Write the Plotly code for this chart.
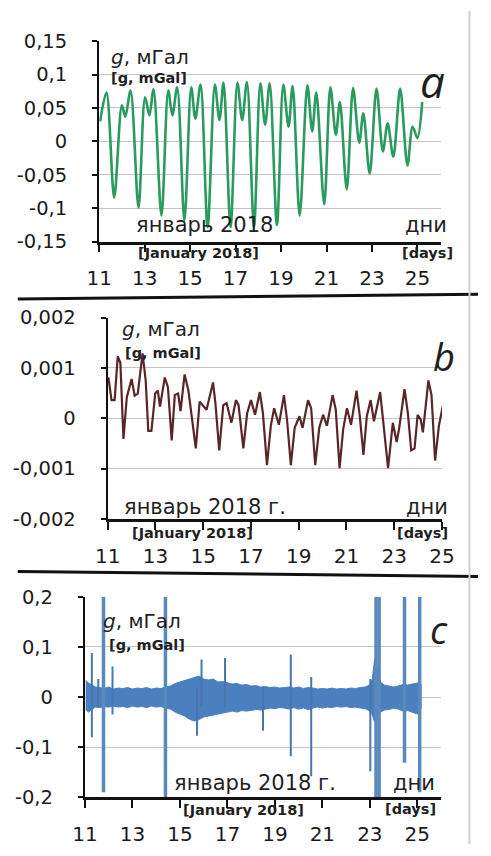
import plotly.graph_objects as go

W, H = 491, 856

# ---------------- data ----------------
x_ticks = [11, 13, 15, 17, 19, 21, 23, 25]
x_ticktext = ["11", "13", "15", "17", "19", "21", "23", "25"]

# panel a (green, smoothed tidal signal) - extrema
a_day = [11.04, 11.32, 11.66, 12.0, 12.15, 12.38, 12.73, 13.02, 13.21, 13.39,
         13.74, 14.04, 14.22, 14.43, 14.75, 15.05, 15.23, 15.46, 15.77, 16.09,
         16.29, 16.47, 16.78, 17.08, 17.29, 17.50, 17.81, 18.09, 18.30, 18.50,
         18.82, 19.10, 19.33, 19.51, 19.82, 20.16, 20.37, 20.55, 20.90, 21.17,
         21.41, 21.59, 21.89, 22.17, 22.44, 22.62, 22.90, 23.20, 23.48, 23.69,
         23.94, 24.24, 24.56, 24.79, 25.0, 25.21]
a_val = [0.030, 0.073, -0.084, 0.054, 0.037, 0.076, -0.099, 0.066, 0.039, 0.078,
         -0.111, 0.076, 0.039, 0.081, -0.118, 0.081, 0.034, 0.085, -0.128, 0.085,
         0.032, 0.088, -0.128, 0.088, 0.032, 0.089, -0.128, 0.087, 0.025, 0.087,
         -0.125, 0.085, 0.022, 0.083, -0.111, 0.084, 0.015, 0.073, -0.094, 0.081,
         0.010, 0.059, -0.072, 0.080, -0.002, 0.042, -0.048, 0.079, -0.015, 0.027,
         -0.023, 0.079, -0.036, 0.022, 0.005, 0.059]
a_ytick = [0.15, 0.1, 0.05, 0, -0.05, -0.1, -0.15]
a_yticktext = ["0,15", "0,1", "0,05", "0", "-0,05", "-0,1", "-0,15"]

# panel b (brown, jagged)
b_day = [11.03, 11.16, 11.29, 11.42, 11.53, 11.66, 11.80, 12.00, 12.13, 12.26,
         12.46, 12.59, 12.70, 12.83, 12.99, 13.10, 13.19, 13.39, 13.52, 13.68,
         13.81, 13.95, 14.05, 14.22, 14.38, 14.69, 14.85, 14.98, 15.14, 15.41,
         15.51, 15.67, 15.84, 15.98, 16.18, 16.37, 16.48, 16.68, 16.84, 17.00,
         17.17, 17.37, 17.50, 17.67, 17.83, 17.97, 18.17, 18.38, 18.51, 18.67,
         18.83, 19.03, 19.16, 19.39, 19.52, 19.69, 19.86, 20.02, 20.18, 20.42,
         20.55, 20.71, 20.86, 21.02, 21.19, 21.42, 21.55, 21.71, 21.85, 22.01,
         22.15, 22.41, 22.54, 22.74, 22.94, 23.10, 23.21, 23.43, 23.57, 23.71,
         23.85, 23.98, 24.11, 24.20, 24.43, 24.56, 24.71, 24.87, 25.04]
b_val = [0.00081, 0.00036, 0.00036, 0.00123, 0.00110, -0.00041, 0.00042, 0.00078,
         0.00045, 0.00049, 0.00129, 0.00075, -0.00025, -0.00025, 0.00049, 0.00055,
         0.00023, 0.00081, 0.00062, -0.00044, 0.00046, 0.00049, 0.00014, 0.00087,
         0.00055, -0.00060, 0.00033, 0.00026, 0.00017, 0.00071, 0.00030, -0.00064,
         0.00026, 0.00030, -0.00009, 0.00036, 0.00026, -0.00060, 0.00010, 0.00036,
         0.00007, 0.00052, 0.00010, -0.00093, -0.00015, 0.00020, -0.00013, 0.00046,
         -0.00003, -0.00093, -0.00019, 0.00004, -0.00019, 0.00036, 0.00020, -0.00093,
         -0.00019, 0.00007, -0.00015, 0.00046, 0.00017, -0.00099, -0.00022, 0.00020,
         -0.00013, 0.00055, 0.00007, -0.00073, 0.00004, 0.00036, -0.00006, 0.00052,
         -0.00003, -0.00099, -0.00009, -0.00047, -0.00019, 0.00058, 0.00010, -0.00064,
         -0.00060, 0.00007, -0.00003, -0.00028, 0.00075, 0.00046, -0.00084, -0.00015,
         0.00026]
b_ytick = [0.002, 0.001, 0, -0.001, -0.002]
b_yticktext = ["0,002", "0,001", "0", "-0,001", "-0,002"]

# panel c (blue noise band: envelope + spikes)
c_day = [11.03, 11.15, 11.3, 11.45, 11.6, 11.8, 12.0, 12.2, 12.4, 12.6,
         12.8, 13.0, 13.2, 13.4, 13.6, 13.8, 14.0, 14.2, 14.4, 14.6,
         14.8, 15.0, 15.2, 15.4, 15.6, 15.8, 16.0, 16.2, 16.4, 16.6,
         16.8, 17.0, 17.2, 17.4, 17.6, 17.8, 18.0, 18.2, 18.4, 18.6,
         18.8, 19.0, 19.2, 19.4, 19.6, 19.8, 20.0, 20.2, 20.4, 20.6,
         20.8, 21.0, 21.2, 21.4, 21.6, 21.8, 22.0, 22.2, 22.4, 22.6,
         22.8, 23.0, 23.1, 23.2, 23.3, 23.45, 23.6, 23.8, 24.0, 24.2,
         24.4, 24.6, 24.8, 25.0, 25.18]
c_upper = [0.033, 0.028, 0.024, 0.020, 0.019, 0.017, 0.020, 0.016, 0.018, 0.017,
           0.019, 0.016, 0.018, 0.017, 0.019, 0.016, 0.018, 0.017, 0.020, 0.022,
           0.027, 0.030, 0.033, 0.036, 0.040, 0.042, 0.036, 0.034, 0.036, 0.030,
           0.031, 0.028, 0.026, 0.027, 0.024, 0.025, 0.022, 0.023, 0.020, 0.021,
           0.019, 0.020, 0.018, 0.019, 0.020, 0.018, 0.020, 0.017, 0.019, 0.018,
           0.016, 0.017, 0.016, 0.018, 0.016, 0.017, 0.016, 0.018, 0.017, 0.019,
           0.020, 0.024, 0.035, 0.075, 0.060, 0.030, 0.024, 0.022, 0.020, 0.022,
           0.025, 0.024, 0.026, 0.028, 0.024]
c_lower = [-0.025, -0.030, -0.024, -0.020, -0.021, -0.019, -0.020, -0.018, -0.020, -0.019,
           -0.021, -0.018, -0.020, -0.019, -0.021, -0.018, -0.020, -0.019, -0.022, -0.024,
           -0.030, -0.034, -0.038, -0.044, -0.048, -0.045, -0.040, -0.038, -0.036, -0.033,
           -0.032, -0.030, -0.028, -0.030, -0.027, -0.028, -0.027, -0.025, -0.026, -0.024,
           -0.022, -0.023, -0.021, -0.022, -0.024, -0.021, -0.024, -0.022, -0.025, -0.022,
           -0.020, -0.022, -0.020, -0.021, -0.019, -0.020, -0.019, -0.021, -0.020, -0.022,
           -0.023, -0.028, -0.035, -0.050, -0.045, -0.030, -0.026, -0.025, -0.022, -0.024,
           -0.028, -0.027, -0.030, -0.034, -0.020]
spike_day = [11.29, 11.56, 12.16, 15.72, 15.91, 16.90, 18.50, 19.67, 20.53, 23.02]
spike_low = [-0.080, -0.020, -0.035, -0.077, -0.020, -0.020, -0.067, -0.118, -0.158, -0.148]
spike_high = [0.088, 0.036, 0.061, 0.020, 0.075, 0.078, 0.020, 0.085, 0.040, 0.036]
big_spike_day = [11.78, 14.39, 23.26, 23.39, 24.46, 25.10]
big_spike_low = [-0.190, -0.200, -0.200, -0.200, -0.131, -0.190]
big_spike_high = [0.200, 0.200, 0.200, 0.200, 0.200, 0.200]
c_ytick = [0.2, 0.1, 0, -0.1, -0.2]
c_yticktext = ["0,2", "0,1", "0", "-0,1", "-0,2"]

assert len(a_day) == len(a_val)
assert len(b_day) == len(b_val)
assert len(c_day) == len(c_upper) == len(c_lower)


def px(x):
    return x / W


def py(y):
    return 1 - y / H


def segs(days, lows, highs):
    xs, ys = [], []
    for d, lo, hi in zip(days, lows, highs):
        xs += [d, d, None]
        ys += [lo, hi, None]
    return xs, ys


fig = go.Figure()

GREEN = "#2a9a5e"
BROWN = "#5a2526"
BLUE = "#4a7fc0"

fig.add_trace(go.Scatter(x=a_day, y=a_val, mode="lines",
                         line=dict(color=GREEN, width=2.6, shape="spline", smoothing=0.9),
                         xaxis="x", yaxis="y", hoverinfo="skip"))
fig.add_trace(go.Scatter(x=b_day, y=b_val, mode="lines",
                         line=dict(color=BROWN, width=2.2),
                         xaxis="x2", yaxis="y2", hoverinfo="skip"))
fig.add_trace(go.Scatter(x=c_day, y=c_lower, mode="lines",
                         line=dict(color=BLUE, width=1),
                         xaxis="x3", yaxis="y3", hoverinfo="skip"))
fig.add_trace(go.Scatter(x=c_day, y=c_upper, mode="lines", fill="tonexty",
                         fillcolor=BLUE, line=dict(color=BLUE, width=1),
                         xaxis="x3", yaxis="y3", hoverinfo="skip"))
sx, sy = segs(spike_day, spike_low, spike_high)
fig.add_trace(go.Scatter(x=sx, y=sy, mode="lines", line=dict(color="#4876ae", width=2),
                         xaxis="x3", yaxis="y3", hoverinfo="skip"))
bx, by = segs(big_spike_day, big_spike_low, big_spike_high)
fig.add_trace(go.Scatter(x=bx, y=by, mode="lines", line=dict(color="#5a89bd", width=3.5),
                         xaxis="x3", yaxis="y3", hoverinfo="skip"))

XFONT = dict(family="DejaVu Sans, sans-serif", size=20, color="#1a1a1a")
YFONT = dict(family="DejaVu Sans, sans-serif", size=19.5, color="#1a1a1a")


def xax(domain, rng, anchor):
    return dict(domain=domain, range=rng, anchor=anchor, tickmode="array",
                tickvals=x_ticks, ticktext=x_ticktext, ticks="outside", ticklen=8,
                tickwidth=2, tickcolor="#111", showline=True, linecolor="#111",
                linewidth=2.5, showgrid=False, zeroline=False, tickfont=XFONT,
                ticklabelstandoff=9, fixedrange=True)


def yax(domain, rng, anchor, vals, text):
    return dict(domain=domain, range=rng, anchor=anchor, tickmode="array",
                tickvals=vals, ticktext=text, ticks="outside", ticklen=5,
                tickwidth=2, tickcolor="#111", showline=True, linecolor="#111",
                linewidth=2.2, showgrid=True, gridcolor="#c4c4c4", gridwidth=1,
                zeroline=False, tickfont=YFONT, ticklabelstandoff=21,
                fixedrange=True)


fig.update_layout(
    width=W, height=H, margin=dict(l=0, r=0, t=0, b=0),
    paper_bgcolor="white", plot_bgcolor="rgba(0,0,0,0)", showlegend=False,
    xaxis=xax([px(91), px(452)], [11, 26.04], "y"),
    yaxis=yax([py(237), py(31)], [-0.15, 0.15], "x", a_ytick, a_yticktext),
    xaxis2=xax([px(100), px(453)], [11, 25.0], "y2"),
    yaxis2=yax([py(522), py(315)], [-0.002, 0.002], "x2", b_ytick, b_yticktext),
    xaxis3=xax([px(76), px(452)], [11, 26.0], "y3"),
    yaxis3=yax([py(808), py(602)], [-0.2, 0.2], "x3", c_ytick, c_yticktext),
)

FN = "DejaVu Sans, sans-serif"
FB = "DejaVu Sans, sans-serif"
FL = "Open Sans, Lato, sans-serif"
ann = []


def txt(t, x, y, size, bold=False, family=FN, color="#1f1f1f"):
    ann.append(dict(text=("<b>%s</b>" % t) if bold else t, x=px(x), y=py(y),
                    xref="paper", yref="paper", xanchor="center", yanchor="middle",
                    showarrow=False, font=dict(family=family, size=size, color=color)))


# panel a
txt("<i>g</i>, мГал", 145, 47, 20)
txt("[g, mGal]", 144, 69, 14.5, bold=True, family=FB)
txt("<i>a</i>", 443, 72, 44, family=FL)
txt("январь 2018", 202, 220, 21)
txt("дни", 436, 220, 21)
txt("[January 2018]", 196, 249, 14.5, bold=True, family=FB)
txt("[days]", 438, 249, 14.5, bold=True, family=FB)
# panel b
txt("<i>g</i>, мГал", 156, 327, 20)
txt("[g, mGal]", 158, 351, 14.5, bold=True, family=FB)
txt("<i>b</i>", 455, 355, 38, family=FL)
txt("январь 2018 г.", 203, 510, 21)
txt("дни", 437, 510, 21)
txt("[January 2018]", 190, 536, 14.5, bold=True, family=FB)
txt("[days]", 432, 536, 14.5, bold=True, family=FB)
# panel c
txt("<i>g</i>, мГал", 136, 627, 20)
txt("[g, mGal]", 141, 652, 14.5, bold=True, family=FB)
txt("<i>c</i>", 450, 635, 38, family=FL)
txt("январь 2018 г.", 256, 793, 21)
txt("дни", 423, 793, 21)
txt("[January 2018]", 243, 821, 14.5, bold=True, family=FB)
txt("[days]", 420, 820, 14.5, bold=True, family=FB)

fig.update_layout(annotations=ann)

shapes = [
    dict(type="line", xref="paper", yref="paper", x0=px(5), y0=py(296), x1=px(491), y1=py(291),
         line=dict(color="#111", width=3)),
    dict(type="line", xref="paper", yref="paper", x0=px(5), y0=py(576), x1=px(491), y1=py(581),
         line=dict(color="#111", width=3)),
    dict(type="line", xref="paper", yref="paper", x0=px(482), y0=0, x1=px(482), y1=1,
         line=dict(color="#d0d0d0", width=2)),
]
fig.update_layout(shapes=shapes)

fig.write_html("out.html")
